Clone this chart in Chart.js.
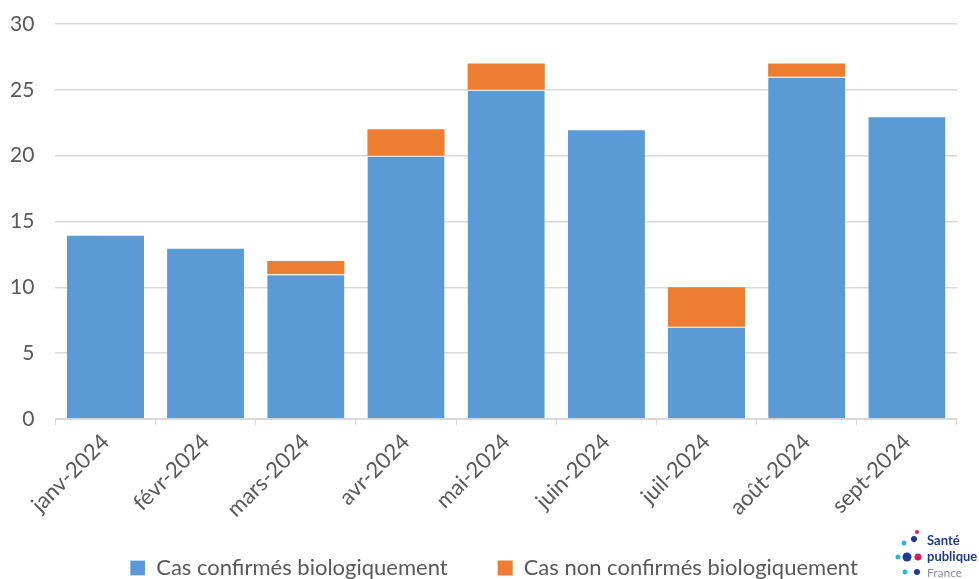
<!DOCTYPE html>
<html>
<head>
<meta charset="utf-8">
<script src="https://cdn.jsdelivr.net/npm/chart.js@4"></script>
<style>
  html, body { margin: 0; padding: 0; background: #fff; }
  #wrap { width: 979px; height: 579px; position: relative; }
</style>
</head>
<body>
<div id="wrap"><canvas id="c"></canvas></div>
<script>
const months = ["janv-2024", "févr-2024", "mars-2024", "avr-2024", "mai-2024", "juin-2024", "juil-2024", "août-2024", "sept-2024"];
const confirmed = [14, 13, 11, 20, 25, 22, 7, 26, 23];
const unconfirmed = [0, 0, 1, 2, 2, 0, 3, 1, 0];
const yTicks = [0, 5, 10, 15, 20, 25, 30];

const FONT = "Lato, 'Open Sans', sans-serif";

// small "Santé publique France" mark in the bottom-right corner
const logo = {
  id: "logo",
  afterLayout(chart) {
    // the legend sits a bit right of the plot centre in the original
    chart.legend.left += 21;
    chart.legend.right += 21;
  },
  afterDraw(chart) {
    const ctx = chart.ctx;
    ctx.save();
    const dots = [
      [904, 543, 2.5, "#29b6e8"], [914, 539, 3, "#1f3a8f"], [917, 532, 2, "#e6175c"],
      [898, 557, 2.5, "#29b6e8"], [907, 557, 4.5, "#1f3a8f"], [918, 557, 3.5, "#e6175c"],
      [905, 572, 2.5, "#29b6e8"], [917, 572, 3, "#1f3a8f"]
    ];
    dots.forEach(([x, y, r, c]) => {
      ctx.beginPath();
      ctx.arc(x, y, r, 0, Math.PI * 2);
      ctx.fillStyle = c;
      ctx.fill();
    });
    ctx.fillStyle = "#1f3a8f";
    ctx.font = "bold 13px " + FONT;
    ctx.textBaseline = "middle";
    ctx.fillText("Santé", 927, 541);
    ctx.fillText("publique", 927, 557);
    ctx.fillStyle = "#8a8fa8";
    ctx.font = "12px " + FONT;
    ctx.fillText("France", 927, 573);
    ctx.restore();
  }
};

new Chart(document.getElementById("c"), {
  type: "bar",
  data: {
    labels: months,
    datasets: [
      {
        label: "Cas confirmés biologiquement",
        data: confirmed,
        backgroundColor: "#5B9BD5",
        borderColor: "#ffffff",
        borderWidth: { top: 1 },
        borderSkipped: "bottom",
        barPercentage: 0.77,
        categoryPercentage: 1,
      },
      {
        label: "Cas non confirmés biologiquement",
        data: unconfirmed,
        backgroundColor: "#ED7D31",
        borderWidth: 0,
        barPercentage: 0.77,
        categoryPercentage: 1,
      },
    ],
  },
  options: {
    responsive: true,
    maintainAspectRatio: false,
    animation: false,
    layout: { padding: { left: -11, right: 22, top: 24, bottom: -10 } },
    plugins: {
      legend: {
        position: "bottom",
        labels: {
          font: { family: FONT, size: 22 },
          color: "#595959",
          boxWidth: 15,
          boxHeight: 15,
          padding: 50,
        },
      },
      tooltip: { enabled: false },
    },
    scales: {
      x: {
        stacked: true,
        // let the rotated labels hang into the space above the legend
        afterFit: (s) => {
          s.paddingLeft = 0;
          s.height = 88;
          s._computeLabelArea = () => undefined;
        },
        grid: { drawOnChartArea: false, drawTicks: true, tickLength: 6, offset: true, color: "#d9d9d9" },
        border: { color: "#d9d9d9" },
        ticks: {
          font: { family: FONT, size: 22 },
          color: "#595959",
          maxRotation: 45,
          minRotation: 45,
          padding: 4,
        },
      },
      y: {
        stacked: true,
        min: 0,
        max: 30,
        afterBuildTicks: (axis) => { axis.ticks = yTicks.map((v) => ({ value: v })); },
        afterFit: (s) => { s.paddingTop = 0; },
        grid: { color: "#d9d9d9", lineWidth: 1.5, drawTicks: false },
        border: { display: false },
        ticks: {
          font: { family: FONT, size: 21 },
          color: "#595959",
          padding: 21,
        },
      },
    },
  },
  plugins: [logo],
});
</script>
</body>
</html>
